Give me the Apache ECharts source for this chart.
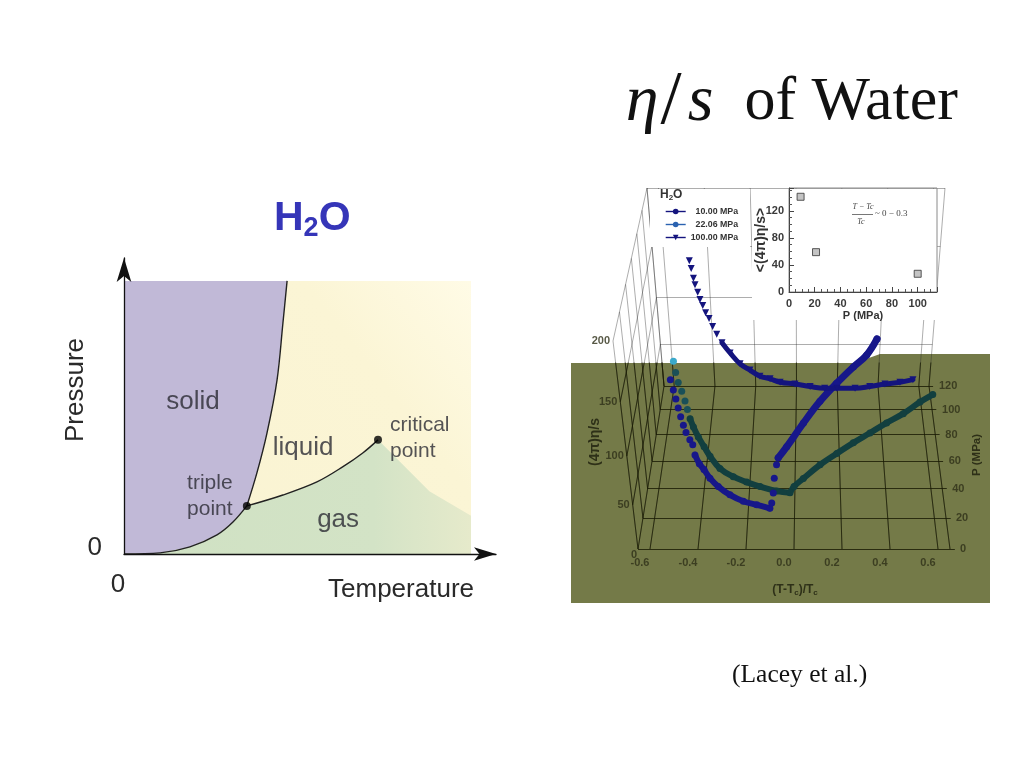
<!DOCTYPE html>
<html>
<head>
<meta charset="utf-8">
<style>html,body{margin:0;padding:0;background:#fff}#c{width:1024px;height:768px}</style>
<script src="https://cdn.jsdelivr.net/npm/echarts@6/dist/echarts.min.js"></script>
</head>
<body>
<div id="c"></div>
<script>
// ---------- phase diagram (arbitrary units, 0-100 on both axes) ----------
const sublimation = [[0,0],[10.4,0.4],[19,2.6],[26.8,7],[31.4,11.7],[35.4,17.6]];
const fusion = [[35.4,17.6],[38.3,29.7],[41.2,44.3],[44.1,63.7],[45.8,84.6],[47,100]];
const vaporization = [[35.4,17.6],[45.8,21.6],[55.6,26.4],[63,31.9],[68.8,37],[73.2,41.8]];
const gasEdge = [[88,23],[100,14],[100,0]];
const phasePoints = [[35.4,17.6],[73.2,41.8]];
const phaseLabels = ['solid','liquid','gas'];
const phaseLabelAt = [[19.9,55.7],[51.6,38.8],[61.7,12.5]];

// ---------- eta/s curves: [(T-Tc)/Tc, (4pi)eta/s] ----------
const curve10 = [[-.469,156],[-.461,147],[-.454,139],[-.448,131],[-.441,123],[-.433,115],[-.425,108],[-.412,101],[-.402,96],[-.396,86],[-.381,77],[-.364,71],[-.342,62],[-.31,53],[-.264,44],[-.21,37],[-.155,33],[-.101,29],[-.093,35],[-.086,46],[-.081,62],[-.071,76],[-.064,83],[-.03,94],[.036,117],[.099,137],[.161,153],[.222,167],[.27,177],[.305,190]];
const curve22 = [[-.467,157],[-.462,147],[-.455,138],[-.444,130],[-.434,121],[-.427,113],[-.419,104],[-.408,96],[-.391,86],[-.37,76],[-.348,66],[-.31,53],[-.256,44],[-.201,38],[-.145,33],[-.075,28],[-.019,26],[-.002,33],[.037,42],[.106,57],[.174,69],[.24,80],[.306,90],[.371,100],[.435,109],[.498,120],[.546,127]];
const curve100 = [[-.464,157],[-.458,150],[-.451,141],[-.446,135],[-.436,128],[-.428,121],[-.417,115],[-.406,108],[-.392,102],[-.378,94],[-.361,86],[-.339,77],[-.304,66],[-.26,54],[-.215,47],[-.169,40],[-.122,37],[-.075,33],[-.005,31],[.066,28],[.135,26],[.193,26],[.278,26],[.347,28],[.418,31],[.488,33],[.548,36]];
const pressures = [10, 22.06, 100];

// ---------- inset ----------
const insetP = [9, 21, 100];
const insetEta = [141, 59, 27];

// ---------- perspective box tick labels ----------
const tTicks = [-.6,-.4,-.2,0,.2,.4,.6];
const pTicks = [0,20,40,60,80,100,120];
const vTicks = [0,50,100,150,200];

// projects (T, P, eta/s) into the flat panel coordinates of the hidden grid
function lerp(a,b,k){return a+(b-a)*k;}
function project(t,p,v){
  const q=p/120, f=q*1.174/(1+.174*q), r=v/200, g=r*.808/(1-.192*r), u=(t+.65)/1.3;
  const lo=lerp(lerp(638,664,f),lerp(613,647,f),g), hi=lerp(lerp(950,929,f),lerp(975,945,f),g);
  return [lerp(lo,hi,u), lerp(lerp(549,386,f),lerp(341,188,f),g)];
}
const seg=(a,b)=>({coords:[project(...a),project(...b)]});
const boxLines=[];
[...tTicks,-.65,.65].forEach(t=>{boxLines.push(seg([t,0,0],[t,120,0]));boxLines.push(seg([t,120,0],[t,120,200]));});
pTicks.forEach(p=>{boxLines.push(seg([-.65,p,0],[.67,p,0]));boxLines.push(seg([-.65,p,0],[-.65,p,200]));});
vTicks.slice(1).forEach(v=>{boxLines.push(seg([-.65,0,v],[-.65,120,v]));boxLines.push(seg([-.65,120,v],[.65,120,v]));});

const LS='"Liberation Sans",Arial,sans-serif', SERIF='"Liberation Serif","Times New Roman",serif';
const tickStyle={fontFamily:LS,fontWeight:'bold',fontSize:11,color:'#2e3018'};

function curveSeries(name,arr,p,symbol,size,colorAt,legendColor){
  return {name,type:'line',xAxisIndex:1,yAxisIndex:1,z:6,symbol,symbolSize:size,symbolRotate:symbol==='triangle'?180:0,
    showSymbol:true,showAllSymbol:true,silent:true,animation:false,
    lineStyle:{opacity:0,color:legendColor},itemStyle:{color:legendColor,opacity:1},
    data:arr.map((d,i)=>({value:project(d[0],p,d[1]),itemStyle:{color:colorAt(i)}}))};
}
function traceSeries(arr,p,width,color){
  return {type:'line',xAxisIndex:1,yAxisIndex:1,z:5,symbol:'none',smooth:.4,silent:true,animation:false,lineStyle:{width,color,cap:'round'},data:arr.map(d=>project(d[0],p,d[1]))};
}
function tickLabelSeries(values,pos,text,lab){
  return {type:'scatter',xAxisIndex:1,yAxisIndex:1,z:4,symbolSize:0,silent:true,animation:false,
    data:values.map((v,i)=>{const c=pos(v);return {value:c,label:{show:true,formatter:text(v),...lab(v),...tickStyle}};})};
}

const regionPolys={
  liquid:[[0,0],[100,0],[100,100],[0,100]],
  solid:[[0,0],...sublimation,...fusion.slice(1),[0,100]],
  gas:[...sublimation,...vaporization.slice(1),...gasEdge]
};
const regionFill={
  liquid:new echarts.graphic.LinearGradient(0,1,1,0,[{offset:0,color:'#f9f3d2'},{offset:.7,color:'#fbf5d5'},{offset:1,color:'#fffbe6'}]),
  solid:'#c1b9d7',
  gas:new echarts.graphic.LinearGradient(0,0,1,0,[{offset:0,color:'#cfe1c3'},{offset:.72,color:'#d3e3c6'},{offset:1,color:'#e6eacb'}])
};
const darkLine='rgba(25,27,0,0.72)', lightLine='rgba(40,40,40,0.38)';

const option={
  animation:false,
  backgroundColor:'#fff',
  title:[
    {text:'{e|η}{sl|/}{m|s}{t|  of Water}',right:61,top:60,textStyle:{fontWeight:'normal',rich:{
      e:{fontFamily:SERIF,fontStyle:'italic',fontWeight:'normal',fontSize:66,color:'#111',padding:[0,2,0,0]},
      m:{fontFamily:SERIF,fontStyle:'italic',fontWeight:'normal',fontSize:66,color:'#111',padding:[0,0,0,6]},
      sl:{fontFamily:SERIF,fontWeight:'normal',fontSize:76,color:'#111'},
      t:{fontFamily:SERIF,fontWeight:'normal',fontSize:62,color:'#111'}}}},
    {text:'{h|H}{s|2}{h|O}',left:269,top:190,textStyle:{rich:{
      h:{fontFamily:LS,fontWeight:'bold',fontSize:41,color:'#3535b8'},
      s:{fontFamily:LS,fontWeight:'bold',fontSize:27,color:'#3535b8',padding:[20,0,0,0]}}}},
    {text:'(Lacey et al.)',left:727,top:657,textStyle:{fontFamily:SERIF,fontSize:25.5,fontWeight:'normal',color:'#111'}}
  ],
  grid:[
    {left:124,top:258,width:372,height:296},
    {left:560,top:175,width:440,height:440},
    {left:789,top:188,width:148,height:104,show:true,backgroundColor:'rgba(255,255,255,0)',borderColor:'#8a8a8a',borderWidth:1,z:3},
    {left:571,top:363,width:419,height:240}
  ],
  xAxis:[
    {gridIndex:0,type:'value',min:0,max:107.2,interval:200,splitLine:{show:false},axisTick:{show:false},
     axisLine:{onZero:false,lineStyle:{color:'#111',width:1.3},symbol:['none','arrow'],symbolSize:[10,22]},
     axisLabel:{color:'#2a2a2a',fontFamily:LS,fontSize:26,margin:18,showMaxLabel:false,padding:[0,12,0,0]},
     name:'Temperature',nameLocation:'end',nameGap:-22,nameMoveOverlap:false,nameTextStyle:{align:'right',verticalAlign:'top',padding:[23,0,0,0],fontFamily:LS,fontSize:26,color:'#2a2a2a'},z:7},
    {gridIndex:1,type:'value',min:560,max:1000,show:false},
    {gridIndex:2,type:'value',min:0,max:115,interval:20,splitLine:{show:false},z:8,
     axisLine:{lineStyle:{color:'#444'}},axisTick:{inside:true,length:5,lineStyle:{color:'#444'}},minorTick:{show:true,splitNumber:4,length:3,lineStyle:{color:'#555'}},
     axisLabel:{fontFamily:LS,fontWeight:'bold',fontSize:11,color:'#3a3a3a',margin:6,showMaxLabel:false},
     name:'P (MPa)',nameLocation:'middle',nameGap:18,nameMoveOverlap:false,nameTextStyle:{fontFamily:LS,fontWeight:'bold',fontSize:11,color:'#333',verticalAlign:'top'}},
    {gridIndex:3,type:'value',min:571,max:990,show:false}
  ],
  yAxis:[
    {gridIndex:0,type:'value',min:0,max:108.4,interval:200,splitLine:{show:false},axisTick:{show:false},
     axisLine:{onZero:false,lineStyle:{color:'#111',width:1.3},symbol:['none','arrow'],symbolSize:[11,24]},
     axisLabel:{color:'#2a2a2a',fontFamily:LS,fontSize:26,margin:22,verticalAlign:'bottom',lineHeight:13,showMaxLabel:false},
     name:'Pressure',nameLocation:'middle',nameGap:48,nameMoveOverlap:false,nameTextStyle:{fontFamily:LS,fontSize:26,color:'#2a2a2a',verticalAlign:'middle',padding:[0,0,0,32]},z:7},
    {gridIndex:1,type:'value',min:175,max:615,inverse:true,show:false},
    {gridIndex:2,type:'value',min:0,max:154,interval:40,splitLine:{show:false},z:8,
     axisLine:{lineStyle:{color:'#444'}},axisTick:{inside:true,length:5,lineStyle:{color:'#444'}},minorTick:{show:true,splitNumber:4,length:3,lineStyle:{color:'#555'}},
     axisLabel:{fontFamily:LS,fontWeight:'bold',fontSize:11,color:'#3a3a3a',margin:5,showMaxLabel:false},
     name:'<(4π)η/s>',nameLocation:'middle',nameGap:28,nameMoveOverlap:false,nameTextStyle:{fontFamily:LS,fontWeight:'bold',fontSize:14,color:'#333',verticalAlign:'middle'}},
    {gridIndex:3,type:'value',min:363,max:603,inverse:true,show:false}
  ],
  legend:{left:665,top:207,padding:0,orient:'vertical',itemWidth:20,itemHeight:7,itemGap:4,z:9,selectedMode:false,
    lineStyle:{width:1.4,opacity:1},itemStyle:{opacity:1},
    data:['10.00 MPa','22.06 MPa','100.00 MPa'],
    formatter:n=>n.length<10?'  '+n:n,
    textStyle:{fontFamily:LS,fontWeight:'bold',fontSize:8.8,color:'#333'}},
  graphic:[
    {type:'polygon',z:0,shape:{points:[[571,363],[855,363],[880,354],[990,354],[990,603],[571,603]]},style:{fill:'#747a48'}},
    {type:'rect',z:2,shape:{x:650,y:189,width:100,height:58},style:{fill:'#fff'}},
    {type:'rect',z:2,shape:{x:752,y:189,width:185,height:131},style:{fill:'#fff'}},
    {type:'text',z:9,left:660,top:189,style:{text:'{a|H}{b|2}{a|O}',rich:{a:{fontFamily:LS,fontWeight:'bold',fontSize:12,fill:'#333'},b:{fontFamily:LS,fontWeight:'bold',fontSize:8,fill:'#333',padding:[6,0,0,0]}}}},
    {type:'text',z:9,x:863,y:207,style:{text:'T − Tc',fontFamily:SERIF,fontStyle:'italic',fontSize:8,fill:'#444',align:'center',verticalAlign:'middle'}},
    {type:'rect',z:9,shape:{x:852,y:214,width:21,height:0.8},style:{fill:'#555'}},
    {type:'text',z:9,x:861,y:222,style:{text:'Tc',fontFamily:SERIF,fontStyle:'italic',fontSize:8,fill:'#444',align:'center',verticalAlign:'middle'}},
    {type:'text',z:9,x:875,y:214,style:{text:'~ 0 − 0.3',fontFamily:SERIF,fontSize:9,fill:'#444',align:'left',verticalAlign:'middle'}},
    {type:'text',z:9,x:595,y:442,rotation:Math.PI/2,style:{text:'(4π)η/s',fontFamily:LS,fontWeight:'bold',fontSize:14,fill:'#2e3018',align:'center',verticalAlign:'middle'}},
    {type:'text',z:9,x:977,y:455,rotation:Math.PI/2,style:{text:'P (MPa)',fontFamily:LS,fontWeight:'bold',fontSize:11.5,fill:'#2e3018',align:'center',verticalAlign:'middle'}},
    {type:'text',z:9,x:795,y:590,style:{text:'{b|(T-T}{sub|c}{b|)/T}{sub|c}',align:'center',verticalAlign:'middle',rich:{b:{fontFamily:LS,fontWeight:'bold',fontSize:12,fill:'#2e3018'},sub:{fontFamily:LS,fontWeight:'bold',fontSize:8,fill:'#2e3018',padding:[6,0,0,0]}}}}
  ],
  series:[
    // phase diagram regions, drawn through the grid's scales
    {type:'custom',xAxisIndex:0,yAxisIndex:0,z:1,silent:true,animation:false,clip:false,
     data:Object.keys(regionPolys).map(k=>[k]),
     renderItem:(params,api)=>{
       const k=Object.keys(regionPolys)[params.dataIndex];
       return {type:'polygon',shape:{points:regionPolys[k].map(p=>api.coord(p))},style:{fill:regionFill[k]}};
     }},
    ...[sublimation,fusion,vaporization].map(d=>({type:'line',xAxisIndex:0,yAxisIndex:0,z:3,data:d,smooth:.35,symbol:'none',silent:true,animation:false,lineStyle:{color:'#222',width:1.4}})),
    {type:'scatter',xAxisIndex:0,yAxisIndex:0,z:4,symbolSize:8,itemStyle:{color:'#000'},silent:true,animation:false,data:phasePoints},
    {type:'scatter',xAxisIndex:0,yAxisIndex:0,z:4,symbolSize:0,silent:true,animation:false,
     data:phaseLabels.map((n,i)=>({value:phaseLabelAt[i],label:{show:true,position:'inside',formatter:n,fontFamily:LS,fontSize:26,color:'#2a2a33'}}))},
    {type:'scatter',xAxisIndex:0,yAxisIndex:0,z:4,symbolSize:0,silent:true,animation:false,
     data:[{value:phasePoints[0],label:{show:true,position:'left',distance:13,align:'center',formatter:'triple\npoint',fontFamily:LS,fontSize:21,lineHeight:26,color:'#2a2a33',offset:[-24,-10]}},
           {value:phasePoints[1],label:{show:true,position:'right',distance:12,align:'left',formatter:'critical\npoint',fontFamily:LS,fontSize:21,lineHeight:26,color:'#2a2a33',offset:[0,-2]}}]},
    // perspective box: pale on the white slide, dark where it crosses the olive panel
    {type:'lines',coordinateSystem:'cartesian2d',xAxisIndex:1,yAxisIndex:1,z:1,silent:true,animation:false,
     lineStyle:{color:lightLine,width:1,opacity:1,curveness:0},data:boxLines},
    {type:'lines',coordinateSystem:'cartesian2d',xAxisIndex:3,yAxisIndex:3,z:1,clip:true,silent:true,animation:false,
     lineStyle:{color:darkLine,width:1,opacity:1,curveness:0},data:boxLines},
    tickLabelSeries(tTicks,t=>project(t,0,0),t=>t.toFixed(1),()=>({position:'inside',offset:[-10,14]})),
    tickLabelSeries(pTicks,p=>project(.65,p,0),p=>String(p),()=>({position:'right',distance:10})),
    tickLabelSeries(vTicks,v=>project(-.65,0,v),v=>String(v),v=>({position:'left',distance:v===0?1:3,offset:v===0?[0,6]:[0,0]})),
    traceSeries(curve10.slice(9,18),pressures[0],6,'#17178a'),
    traceSeries(curve10.slice(22),pressures[0],7,'#17178a'),
    traceSeries(curve22.slice(6,17),pressures[1],6,'#123f3f'),
    traceSeries(curve22.slice(16),pressures[1],6,'#123f3f'),
    traceSeries(curve100.slice(11),pressures[2],5,'#14147e'),
    curveSeries('22.06 MPa',curve22,pressures[1],'circle',7,i=>i===0?'#3aa9cb':(i<6?'#1a5058':'#123f3f'),'#2a62b0'),
    curveSeries('10.00 MPa',curve10,pressures[0],'circle',7,()=>'#17178a','#14147e'),
    curveSeries('100.00 MPa',curve100,pressures[2],'triangle',7,()=>'#14147e','#14147e'),
    // inset
    {type:'scatter',xAxisIndex:2,yAxisIndex:2,z:9,symbol:'rect',symbolSize:7,silent:true,animation:false,
     itemStyle:{color:'#b5b5b5',borderColor:'#333',borderWidth:1},data:insetP.map((p,i)=>[p,insetEta[i]])}
  ]
};
echarts.init(document.getElementById('c'),null,{renderer:'canvas'}).setOption(option);
</script>
</body>
</html>
